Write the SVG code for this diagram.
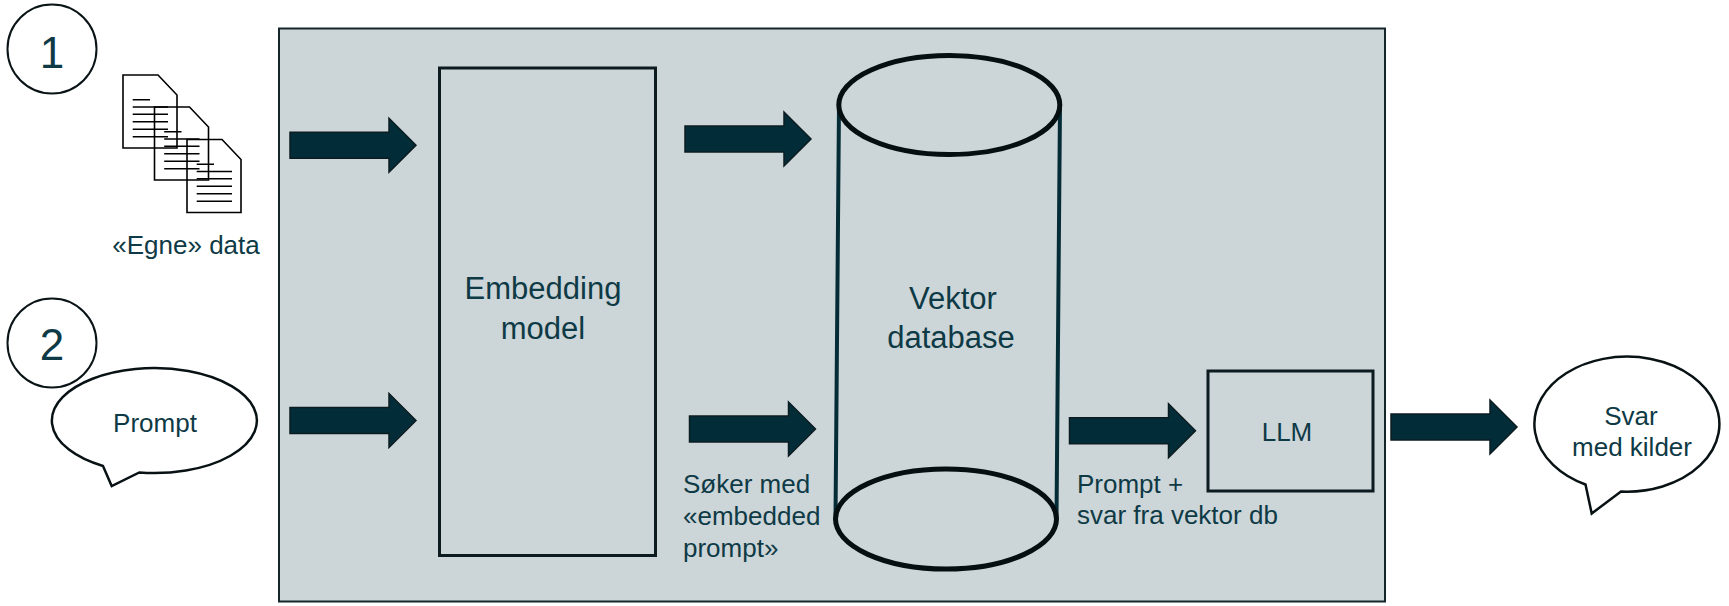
<svg xmlns="http://www.w3.org/2000/svg" xmlns:xlink="http://www.w3.org/1999/xlink" width="1729" height="606" viewBox="0 0 1729 606">
<style>
text{font-family:"Liberation Sans",Arial,sans-serif;fill:#0e3a46}
.t26{font-size:26px}
.t31{font-size:31px}
.num{font-size:44px;text-anchor:middle}
.mid{text-anchor:middle}
.arrow{fill:#022d38;stroke:#0b1c21;stroke-width:1.5}
.box{fill:none;stroke:#0c1b1f;stroke-width:3}
.bubble{fill:#fff;stroke:#081215;stroke-width:2.5;stroke-linejoin:miter}
.doc{fill:none;stroke:#000;stroke-width:1.6}
</style>
<defs>
<path id="arr" class="arrow" d="M0,-13 H99 V-27 L126,0 L99,27 V13 H0 Z"/>
<g id="docicon">
<path d="M0,0 H35 L54,20 V73 H0 Z"/>
<path d="M9.7,24.7 H27 M9.7,32 H45 M9.7,39.3 H45 M9.7,46.7 H45 M9.7,54.3 H45 M9.7,61.7 H45"/>
</g>
</defs>

<g id="container">
<rect x="279" y="28.5" width="1106" height="573" fill="#ccd5d8" stroke="#15262b" stroke-width="2"/>
</g>

<g id="step1">
<circle cx="52" cy="49" r="44.5" fill="none" stroke="#0a1417" stroke-width="2"/>
<text class="num" x="52" y="68">1</text>
</g>

<g id="step2">
<circle cx="52" cy="343" r="44.5" fill="none" stroke="#0a1417" stroke-width="2"/>
<text class="num" x="52" y="360">2</text>
</g>

<g id="own-data">
<g class="doc">
<use xlink:href="#docicon" transform="translate(123,75)"/>
<use xlink:href="#docicon" transform="translate(154.5,107)"/>
<use xlink:href="#docicon" transform="translate(187,139.5)"/>
</g>
<text class="t26 mid" x="186" y="254">«Egne» data</text>
</g>

<g id="prompt">
<path class="bubble" d="M103,466 A102.5,52.5 0 1 1 139.3,472.5 L111.7,486 Z"/>
<text class="t26 mid" x="155" y="432">Prompt</text>
</g>

<g id="embedding-model">
<rect class="box" x="439.5" y="68" width="216" height="487.5"/>
<text class="t31 mid" x="543" y="299">Embedding</text>
<text class="t31 mid" x="543" y="339">model</text>
</g>

<g id="vector-db">
<path d="M839,105 L835.5,519 M1060,105 L1056.5,519" fill="none" stroke="#032c36" stroke-width="4"/>
<ellipse cx="949.3" cy="105" rx="110.5" ry="49.5" fill="none" stroke="#050f12" stroke-width="5"/>
<ellipse cx="946" cy="519" rx="110.5" ry="50" fill="none" stroke="#050f12" stroke-width="5"/>
<text class="t31 mid" x="953" y="309">Vektor</text>
<text class="t31 mid" x="951" y="348">database</text>
</g>

<g id="llm">
<rect class="box" x="1208" y="371" width="165" height="120"/>
<text class="t26 mid" x="1287" y="441">LLM</text>
</g>

<g id="answer">
<path class="bubble" d="M1585.5,484.5 A92.5,67.5 0 1 1 1621,491.5 L1591.7,513.5 Z"/>
<text class="t26 mid" x="1631" y="424.5">Svar</text>
<text class="t26 mid" x="1632" y="456">med kilder</text>
</g>

<g id="connectors">
<use xlink:href="#arr" transform="translate(290,145.3)"/>
<use xlink:href="#arr" transform="translate(685,139)"/>
<use xlink:href="#arr" transform="translate(290,420.5)"/>
<use xlink:href="#arr" transform="translate(689.5,429)"/>
<use xlink:href="#arr" transform="translate(1069.5,430.7)"/>
<use xlink:href="#arr" transform="translate(1391,427)"/>
<text class="t26" x="683" y="493">Søker med</text>
<text class="t26" x="683" y="525">«embedded</text>
<text class="t26" x="683" y="556.5">prompt»</text>
<text class="t26" x="1077" y="492.5">Prompt +</text>
<text class="t26" x="1077" y="524">svar fra vektor db</text>
</g>
</svg>
